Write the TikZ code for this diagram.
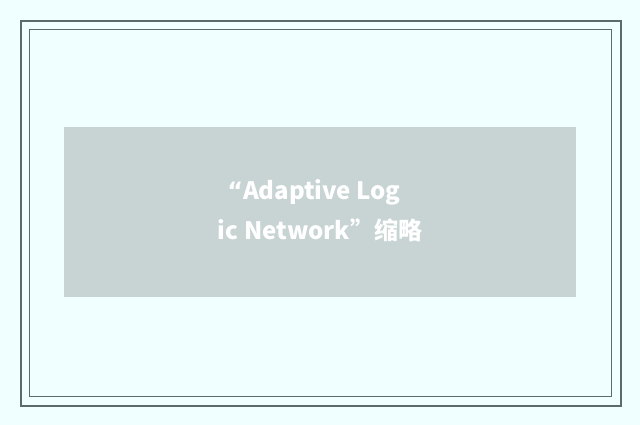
\documentclass[tikz,border=0pt]{standalone}
\usepackage{fontspec}
\setmainfont{Noto Sans CJK SC}
\newfontfamily\latinq{DejaVu Sans}
\definecolor{bgc}{HTML}{F0FFFF}
\definecolor{framec}{HTML}{5A6B6B}
\definecolor{boxc}{HTML}{C8D4D4}
\tikzset{
  frameline/.style={draw=framec},
  graybox/.style={fill=boxc, draw=none},
  title/.style={text=white, font=\fontsize{24}{40}\selectfont\bfseries, align=center}
}
\begin{document}
\begin{tikzpicture}[x=1pt,y=-1pt]
\fill[bgc] (0,0) rectangle (640,425);
\useasboundingbox (0,0) rectangle (640,425);
\draw[frameline, line width=2pt] (21,21) rectangle (621,406);
\draw[frameline, line width=1pt] (29.5,29.5) rectangle (611.5,396.5);
\fill[graybox] (64,127) rectangle (576,297);
\node[title] (t) at (320,211) {{\latinq “}Adaptive Log\hspace*{12pt}\\ic Network”缩略};
\end{tikzpicture}
\end{document}
